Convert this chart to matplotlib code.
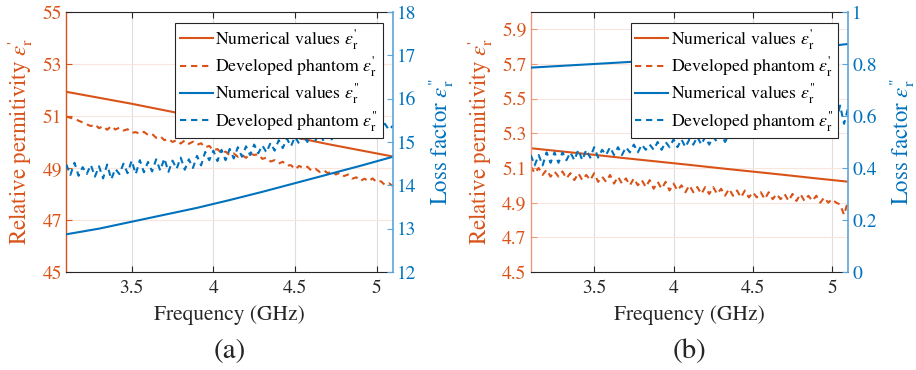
import numpy as np
import matplotlib
matplotlib.use("Agg")
import matplotlib.pyplot as plt
from matplotlib.ticker import FuncFormatter, FixedLocator

plt.rcParams['font.family'] = ['STIXGeneral', 'DejaVu Serif']
plt.rcParams['mathtext.fontset'] = 'stix'

ORANGE = '#D95319'
BLUE = '#0072BD'
DARK = '#262626'

# ---------------- data ----------------
# coarse grid for the smooth numerical curves (GHz)
freq_coarse = [3.1, 3.3, 3.5, 3.7, 3.9, 4.1, 4.3, 4.5, 4.7, 4.9, 5.1]
# measurement sampling grid (GHz), 0.025 GHz step
freq_meas = np.linspace(3.1, 5.1, 81)

# panel (a)
a_num_real = [51.93, 51.70, 51.47, 51.22, 50.97, 50.72, 50.45, 50.18, 49.92, 49.68, 49.44]
a_num_loss = [12.87, 13.00, 13.16, 13.32, 13.48, 13.66, 13.85, 14.05, 14.25, 14.45, 14.66]
a_meas_real = [50.98, 50.93, 50.89, 50.82, 50.75, 50.68, 50.61, 50.68, 50.53, 50.61,
               50.47, 50.61, 50.48, 50.55, 50.44, 50.49, 50.35, 50.38, 50.31, 50.39,
               50.27, 50.31, 50.16, 50.22, 50.07, 50.12, 50.00, 50.07, 49.94, 50.06,
               49.93, 50.01, 49.89, 49.95, 49.79, 49.85, 49.68, 49.73, 49.57, 49.63,
               49.49, 49.56, 49.43, 49.50, 49.39, 49.55, 49.50, 49.53, 49.35, 49.40,
               49.25, 49.30, 49.17, 49.24, 49.09, 49.11, 48.95, 49.08, 49.00, 49.05,
               48.90, 48.97, 48.85, 48.92, 48.80, 48.87, 48.75, 48.82, 48.69, 48.75,
               48.59, 48.64, 48.50, 48.59, 48.49, 48.60, 48.45, 48.49, 48.35, 48.41,
               48.30]
a_meas_loss = [14.48, 14.24, 14.52, 14.22, 14.42, 14.26, 14.47, 14.20, 14.44, 14.16,
               14.48, 14.14, 14.38, 14.26, 14.50, 14.28, 14.57, 14.26, 14.58, 14.30,
               14.54, 14.32, 14.60, 14.34, 14.62, 14.31, 14.57, 14.38, 14.64, 14.36,
               14.60, 14.40, 14.68, 14.46, 14.77, 14.58, 14.80, 14.56, 14.82, 14.58,
               14.84, 14.62, 14.88, 14.66, 14.90, 14.70, 14.94, 14.74, 14.92, 14.76,
               14.98, 14.80, 15.04, 14.86, 15.08, 14.90, 15.12, 14.96, 15.18, 15.00,
               15.22, 15.04, 15.20, 15.02, 15.22, 15.06, 15.24, 15.08, 15.26, 15.10,
               15.28, 15.12, 15.30, 15.14, 15.32, 15.18, 15.38, 15.24, 15.42, 15.28,
               15.38]

# panel (b)
b_num_real = [5.214, 5.195, 5.176, 5.156, 5.137, 5.118, 5.098, 5.079, 5.060, 5.040, 5.021]
b_num_loss = [0.786, 0.793, 0.800, 0.807, 0.815, 0.824, 0.833, 0.842, 0.851, 0.863, 0.877]
b_meas_real = [5.11, 5.07, 5.10, 5.06, 5.09, 5.05, 5.08, 5.05, 5.08, 5.04,
               5.07, 5.03, 5.07, 5.03, 5.06, 5.03, 5.07, 5.02, 5.05, 5.02,
               5.06, 5.01, 5.05, 5.01, 5.04, 5.00, 5.04, 5.00, 5.03, 4.99,
               5.03, 4.98, 5.02, 4.98, 5.02, 4.97, 5.01, 4.97, 5.00, 4.96,
               5.00, 4.96, 4.99, 4.95, 4.99, 4.95, 4.99, 4.95, 4.98, 4.94,
               4.98, 4.94, 4.97, 4.93, 4.97, 4.93, 4.96, 4.93, 4.96, 4.92,
               4.96, 4.92, 4.95, 4.92, 4.95, 4.91, 4.95, 4.91, 4.95, 4.91,
               4.94, 4.91, 4.94, 4.90, 4.93, 4.90, 4.92, 4.90, 4.89, 4.83,
               4.91]
b_meas_loss = [0.45, 0.41, 0.45, 0.41, 0.46, 0.42, 0.46, 0.42, 0.46, 0.43,
               0.46, 0.43, 0.47, 0.43, 0.47, 0.44, 0.48, 0.44, 0.47, 0.45,
               0.48, 0.45, 0.48, 0.45, 0.48, 0.46, 0.49, 0.46, 0.49, 0.47,
               0.49, 0.47, 0.50, 0.47, 0.50, 0.48, 0.51, 0.48, 0.51, 0.48,
               0.51, 0.49, 0.52, 0.49, 0.52, 0.49, 0.52, 0.50, 0.53, 0.50,
               0.53, 0.51, 0.53, 0.51, 0.54, 0.52, 0.54, 0.52, 0.55, 0.53,
               0.55, 0.53, 0.56, 0.54, 0.56, 0.54, 0.57, 0.55, 0.57, 0.55,
               0.58, 0.56, 0.58, 0.56, 0.59, 0.57, 0.59, 0.58, 0.64, 0.57,
               0.63]

x_ticks = [3.5, 4, 4.5, 5]
a_left_ticks = [45, 47, 49, 51, 53, 55]
a_right_ticks = [12, 13, 14, 15, 16, 17, 18]
b_left_ticks = [4.5, 4.7, 4.9, 5.1, 5.3, 5.5, 5.7, 5.9]
b_right_ticks = [0, 0.2, 0.4, 0.6, 0.8, 1]

labels = [r"Numerical values $\epsilon_{\mathrm{r}}^{\text{'}}$",
          r"Developed phantom $\epsilon_{\mathrm{r}}^{\text{'}}$",
          r'Numerical values $\epsilon_{\mathrm{r}}^{\text{"}}$',
          r'Developed phantom $\epsilon_{\mathrm{r}}^{\text{"}}$']

fmt = FuncFormatter(lambda v, p: "%g" % v)
DASH = (3.0, 2.3)


def panel(rect, num_real, meas_real, num_loss, meas_loss, ylim1, yt1, ylim2, yt2,
          lab1x, lab2x, leftspine_color):
    ax1 = fig.add_axes(rect)
    ax2 = ax1.twinx()
    l1, = ax1.plot(freq_coarse, num_real, '-', color=ORANGE, lw=1.5)
    l2, = ax1.plot(freq_meas, meas_real, '--', color=ORANGE, lw=1.5, dashes=DASH)
    l3, = ax2.plot(freq_coarse, num_loss, '-', color=BLUE, lw=1.5)
    l4, = ax2.plot(freq_meas, meas_loss, '--', color=BLUE, lw=1.5, dashes=DASH)
    ax1.set_xlim(3.1, 5.1)
    ax1.set_ylim(*ylim1)
    ax2.set_ylim(*ylim2)
    ax1.xaxis.set_major_locator(FixedLocator(x_ticks))
    ax1.yaxis.set_major_locator(FixedLocator(yt1))
    ax2.yaxis.set_major_locator(FixedLocator(yt2))
    for a in (ax1.xaxis, ax1.yaxis, ax2.yaxis):
        a.set_major_formatter(fmt)
    ax1.set_axisbelow(True)
    ax1.xaxis.grid(True, color='#dedede', lw=0.8)
    ax1.yaxis.grid(True, color='#f9e5dc', lw=0.8)
    ax1.tick_params(axis='x', which='both', direction='in', top=True, bottom=True,
                    length=4, width=0.8, color=DARK, labelsize=14, labelcolor=DARK, pad=6)
    ax1.tick_params(axis='y', direction='in', left=True, right=False, length=4,
                    width=0.8, color=leftspine_color, labelsize=14, labelcolor=ORANGE, pad=3)
    ax2.tick_params(axis='y', direction='in', right=True, length=4, width=0.8,
                    color='#5aa6dc', labelsize=14, labelcolor=BLUE, pad=3)
    for s in ('top', 'bottom'):
        ax1.spines[s].set_color(DARK)
        ax1.spines[s].set_linewidth(0.8)
    ax1.spines['left'].set_color(leftspine_color)
    ax1.spines['left'].set_linewidth(1.0)
    ax1.spines['right'].set_visible(False)
    for s in ('top', 'bottom', 'left'):
        ax2.spines[s].set_visible(False)
    ax2.spines['right'].set_color('#5aa6dc')
    ax2.spines['right'].set_linewidth(1.2)

    ax1.set_xlabel("Frequency (GHz)", fontsize=15.5, color=DARK)
    ax1.xaxis.set_label_coords(0.5, -0.165)
    ax1.xaxis.label.set_verticalalignment('center')
    ax1.set_ylabel(r"Relative permitivity $\epsilon_{\mathrm{r}}^{\text{'}}$",
                   fontsize=16.5, color=ORANGE)
    ax1.yaxis.set_label_coords(lab1x, 0.5)
    ax1.yaxis.label.set_verticalalignment('center')
    ax2.set_ylabel(r'Loss factor $\epsilon_{\mathrm{r}}^{\text{"}}$',
                   fontsize=16.5, color=BLUE, rotation=90)
    ax2.yaxis.set_label_coords(lab2x, 0.5)
    ax2.yaxis.label.set_verticalalignment('center')

    leg = ax2.legend([l1, l2, l3, l4], labels, loc='upper right',
                     bbox_to_anchor=(0.969, 0.959), borderaxespad=0,
                     fontsize=12.8, handlelength=1.85, handletextpad=0.15,
                     labelspacing=0.14, borderpad=0.25, fancybox=False,
                     edgecolor=DARK, framealpha=1)
    leg.get_frame().set_linewidth(0.8)
    return ax1, ax2


fig = plt.figure(figsize=(9.16, 3.70), dpi=100)
panel([0.0724, 0.2649, 0.3567, 0.7027], a_num_real, a_meas_real, a_num_loss, a_meas_loss,
      (45, 55), a_left_ticks, (12, 18), a_right_ticks, -0.14, 1.147, ORANGE)
panel([0.5794, 0.2649, 0.3464, 0.7027], b_num_real, b_meas_real, b_num_loss, b_meas_loss,
      (4.5, 6.0), b_left_ticks, (0, 1), b_right_ticks, -0.16, 1.17, '#e99a7a')

fig.text(230 / 916, 1 - 351.7 / 370, "(a)", ha='center', va='center', fontsize=21, color=DARK)
fig.text(689 / 916, 1 - 351.7 / 370, "(b)", ha='center', va='center', fontsize=21, color=DARK)

fig.savefig("out.png", dpi=100)
